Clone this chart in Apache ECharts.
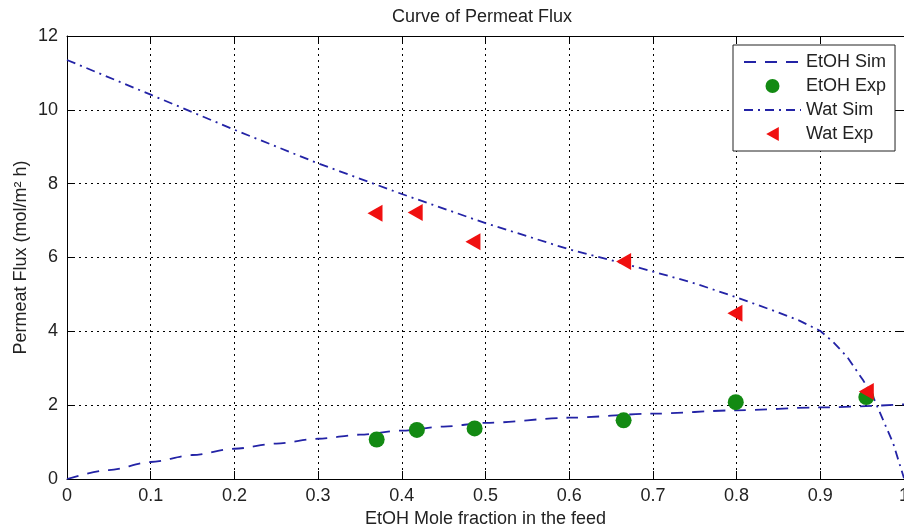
<!DOCTYPE html>
<html>
<head>
<meta charset="utf-8">
<script src="https://cdn.jsdelivr.net/npm/echarts@6/dist/echarts.min.js"></script>
<style>html,body{margin:0;padding:0;background:#fff;}#c{width:904px;height:529px;}</style>
</head>
<body>
<div id="c"></div>
<script>
// ---- data ----
var etohSimX = [0, 0.05, 0.1, 0.15, 0.2, 0.25, 0.3, 0.35, 0.4, 0.45, 0.5, 0.6, 0.7, 0.8, 0.9, 1.0];
var etohSimY = [0, 0.24, 0.46, 0.65, 0.82, 0.96, 1.09, 1.2, 1.31, 1.42, 1.52, 1.66, 1.77, 1.86, 1.94, 2.02];
var etohExpX = [0.37, 0.418, 0.487, 0.665, 0.799, 0.955];
var etohExpY = [1.07, 1.33, 1.37, 1.59, 2.08, 2.22];
var watSimX = [0, 0.1, 0.2, 0.3, 0.4, 0.5, 0.6, 0.65, 0.7, 0.75, 0.8, 0.85, 0.875, 0.9, 0.915, 0.932, 0.951, 0.963, 0.975, 0.987, 1.0];
var watSimY = [11.35, 10.41, 9.46, 8.55, 7.72, 6.93, 6.22, 5.93, 5.62, 5.3, 4.92, 4.51, 4.29, 4.01, 3.72, 3.31, 2.68, 2.23, 1.6, 0.97, 0.02];
var watExpX = [0.368, 0.416, 0.485, 0.665, 0.798, 0.955];
var watExpY = [7.2, 7.22, 6.43, 5.89, 4.49, 2.37];
var xTicks = [0, 0.1, 0.2, 0.3, 0.4, 0.5, 0.6, 0.7, 0.8, 0.9, 1];
var yTicks = [0, 2, 4, 6, 8, 10, 12];

function pairs(xs, ys) { return xs.map(function (x, i) { return [x, ys[i]]; }); }

var FONT = 'Liberation Sans, Arial, sans-serif';
var lineColor = '#2323a6';

var chart = echarts.init(document.getElementById('c'), null, { renderer: 'canvas' });
var axisCommon = {
  axisLine: { show: true, onZero: false, lineStyle: { color: '#000', width: 1 } },
  axisTick: { show: true, inside: true, length: 8, lineStyle: { color: '#000' } }
};
var hiddenSymbol = { opacity: 0, color: 'rgba(0,0,0,0)', borderWidth: 0 };
chart.setOption({
  animation: false,
  backgroundColor: '#fff',
  title: {
    text: 'Curve of Permeat Flux', left: 477, top: 3, textAlign: 'center',
    textStyle: { fontFamily: FONT, fontSize: 18, fontWeight: 'normal', color: '#222' }
  },
  grid: { left: 67, right: 0, top: 36, bottom: 50, outerBoundsMode: 'none', containLabel: false },
  legend: {
    orient: 'vertical', left: 733, top: 45,
    padding: [7, 9, 7, 10],
    itemWidth: 57, itemHeight: 14, itemGap: 4,
    symbolKeepAspect: true,
    backgroundColor: '#fff', borderColor: '#222', borderWidth: 1,
    textStyle: { fontFamily: FONT, fontSize: 18, color: '#222', lineHeight: 20 },
    data: [
      { name: 'EtOH Sim', itemStyle: hiddenSymbol },
      { name: 'EtOH Exp', icon: 'circle' },
      { name: 'Wat Sim', itemStyle: hiddenSymbol },
      { name: 'Wat Exp', icon: 'path://M0,5L9,0L9,10Z' }
    ]
  },
  xAxis: [
    Object.assign({
      type: 'value', min: 0, max: 1, interval: 0.1, position: 'bottom',
      name: 'EtOH Mole fraction in the feed', nameLocation: 'middle', nameGap: 31,
      nameMoveOverlap: false,
      nameTextStyle: { fontFamily: FONT, fontSize: 18, color: '#222' },
      axisLabel: { fontFamily: FONT, fontSize: 18, color: '#222', margin: 8,
        formatter: function (v) { var s = String(Math.round(v * 10) / 10); return xTicks.indexOf(Number(s)) >= 0 ? s : ''; } },
      splitLine: { show: true, lineStyle: { color: '#000', type: [2, 4], width: 1 } }
    }, axisCommon),
    Object.assign({
      type: 'value', min: 0, max: 1, interval: 0.1, position: 'top',
      axisLabel: { show: false }, splitLine: { show: false }
    }, axisCommon)
  ],
  yAxis: [
    Object.assign({
      type: 'value', min: 0, max: 12, interval: 2, position: 'left',
      name: 'Permeat Flux (mol/m\u00B2 h)', nameLocation: 'middle', nameGap: 37,
      nameMoveOverlap: false,
      nameTextStyle: { fontFamily: FONT, fontSize: 18, color: '#222' },
      axisLabel: { fontFamily: FONT, fontSize: 18, color: '#222', margin: 9,
        formatter: function (v) { return yTicks.indexOf(v) >= 0 ? String(v) : ''; } },
      splitLine: { show: true, lineStyle: { color: '#000', type: [2, 4], width: 1 } }
    }, axisCommon),
    Object.assign({
      type: 'value', min: 0, max: 12, interval: 2, position: 'right',
      axisLabel: { show: false }, splitLine: { show: false }
    }, axisCommon)
  ],
  series: [
    {
      name: 'EtOH Sim', type: 'line', data: pairs(etohSimX, etohSimY),
      showSymbol: false, symbol: 'none', smooth: 0.3, smoothMonotone: 'x',
      lineStyle: { color: lineColor, width: 1.8, type: [12, 9] },
      itemStyle: { color: lineColor }, z: 3
    },
    {
      name: 'EtOH Exp', type: 'scatter', data: pairs(etohExpX, etohExpY),
      symbol: 'circle', symbolSize: 16,
      itemStyle: { color: '#138a13', opacity: 1 }, z: 4
    },
    {
      name: 'Wat Sim', type: 'line', data: pairs(watSimX, watSimY),
      showSymbol: false, symbol: 'none',
      lineStyle: { color: lineColor, width: 1.8, type: [9, 5, 2, 5] },
      itemStyle: { color: lineColor }, z: 3
    },
    {
      name: 'Wat Exp', type: 'scatter', data: pairs(watExpX, watExpY),
      symbol: 'triangle', symbolRotate: 90, symbolSize: [17, 15],
      itemStyle: { color: '#f01010', opacity: 1 }, z: 5
    }
  ]
});
</script>
</body>
</html>
